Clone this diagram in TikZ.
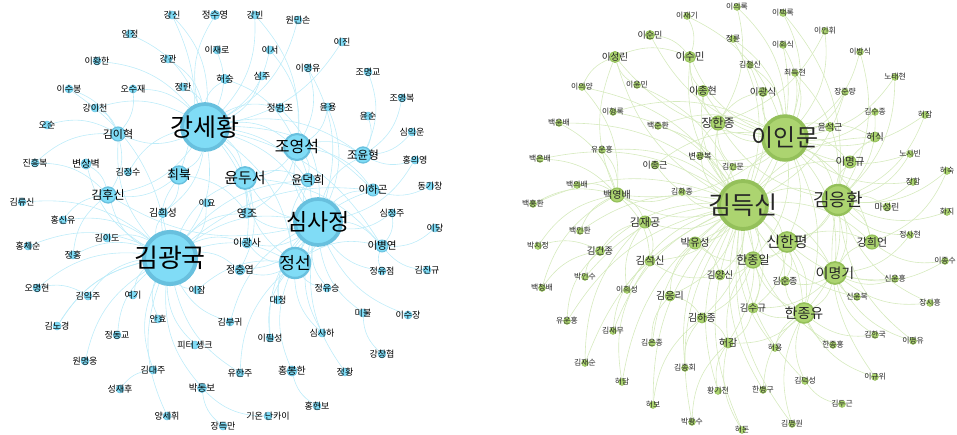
\documentclass[tikz,border=0pt]{standalone}
\usepackage{fontspec}
\newfontfamily\kr{Noto Sans CJK KR}
\usetikzlibrary{backgrounds}
\definecolor{bfill}{RGB}{128,220,246}\definecolor{bring}{RGB}{104,192,222}\definecolor{bedge}{RGB}{190,236,249}
\definecolor{gfill}{RGB}{172,212,112}\definecolor{gring}{RGB}{148,192,90}\definecolor{gedge}{RGB}{214,234,190}
\begin{document}
\begin{tikzpicture}[x=1pt,y=-1pt,bn/.style={circle,fill=bfill,draw=bring,inner sep=0pt},gn/.style={circle,fill=gfill,draw=gring,inner sep=0pt},be/.style={draw=bedge,line width=.6pt},ge/.style={draw=gedge,line width=.6pt},lab/.style={font=\kr\fontsize{#1}{#1}\selectfont,inner sep=0pt}]
\useasboundingbox (0,0) rectangle (957,435);
% left network
\foreach \n/\x/\y/\d/\s/\t in {1/205/127/46/25/강세황,2/170/258/52/26/김광국,3/318/222/46/23/심사정,4/297/147/26/16/조영석,5/295/263/30/17/정선,6/245/178/22/15/윤두서,7/179/175/18/13/최북,8/308/180/13/12/윤덕희,9/118/134/14/11/김이혁,10/108/195/16/12/김후신,11/363/155/16/11.5/조윤형,12/373/190/12/10.5/이하곤,13/382/246/12/10.5/이병연,14/247/213/10/11/영조,15/163/213/9/10/김희성,16/247/243/10/10/이광사,17/240/270/10/10/정충엽,18/86/164/10/10/변상벽,19/202/388/9/9.5/박동보,20/292/371/10/10/홍봉한,21/280/108/9/9.5/정범조,22/225/79/9/9.5/허승,23/215/15/9/9.5/정수영}{\node[bn,minimum size=\d pt,line width={0.08*\d pt}] (l\n) at (\x,\y) {};\node[lab=\s] at (l\n) {\t};}
\foreach \n/\x/\y/\t in {24/130/34/임정,25/97/61/이황한,26/69/89/이수봉,27/133/89/오수재,28/95/108/강이천,29/47/125/오순,30/35/163/진흥복,31/128/172/김정수,32/22/202/김류신,33/63/220/홍신유,34/107/238/김이도,35/28/246/홍체순,36/73/255/정홍,37/37/288/오명현,38/88/296/김익주,39/133/295/여기,40/57/326/김노경,41/117/335/정동교,42/85/361/원명웅,43/153/370/김대주,44/120/389/성재후,45/167/416/양세휘,46/158/319/안효,47/197/290/이잠,48/230/322/김부귀,49/195/345/피터 솅크,50/240/373/유한주,51/223/426/장득만,52/268/416/기온 난카이,53/317/406/홍현보,54/270/338/이필성,55/278/300/대청,56/327/288/정유승,57/322/333/심사하,58/345/372/정황,59/363/313/미불,60/408/315/이수장,61/382/354/강창협,62/382/271/정유점,63/427/270/김진규,64/435/228/이당,65/392/213/심정주,66/430/186/동기창,67/415/160/홍의영,68/412/132/심익운,69/368/116/윤순,70/328/107/윤용,71/402/98/조영복,72/368/72/조명교,73/342/42/이진,74/308/68/이영유,75/298/20/원민손,76/270/50/이서,77/262/76/심주,78/217/50/이재로,79/255/15/강빈,80/172/15/강신,81/168/59/강관,82/183/87/정란,83/207/203/이요}{\node[bn,minimum size=8pt,line width=.5pt] (l\n) at (\x,\y) {};\node[lab=9] at (l\n) {\t};}
\begin{scope}[on background layer]
\foreach \a/\b in {1/2,1/3,1/4,1/6,1/7,2/3,2/5,3/4,3/5,3/6,4/5,4/6,5/6,1/5,2/6,2/7,3/11,3/12,3/13,4/11,6/8,5/13,2/9,2/10,1/9,1/10,3/8,2/14,3/14,1/14,2/16,3/16,2/17,5/17,1/15,2/15,1/11,1/12,1/13,2/12,4/12,5/12,6/13,3/10,1/8,2/8,5/8,4/14,6/14,7/14,7/15,5/16,1/16,6/17,3/17,4/8,7/10,9/10,2/18,18/10,1/21,1/22,1/23,24/1,25/1,26/2,27/1,28/1,29/9,30/10,31/1,32/2,33/2,34/2,35/2,36/2,37/2,38/2,39/2,40/2,41/2,42/2,43/2,44/43,45/2,46/2,47/2,48/2,49/2,50/5,19/2,51/19,52/19,53/20,20/5,54/5,55/5,56/3,57/3,58/3,59/3,60/3,61/59,62/3,63/13,64/13,65/3,66/12,67/3,68/11,69/11,70/4,71/11,72/11,73/1,74/4,75/1,76/1,77/1,78/1,79/1,80/1,81/1,82/1,83/2,27/9,28/9,65/13,74/3,21/3,22/4,26/9,30/9,33/10,36/10,37/38,40/2,47/5,48/3,50/2,54/3,55/3,56/5,57/5,62/13,67/11,70/3,76/4,79/4,80/7}{\draw[be] (l\a) to[bend left=22] (l\b);}
\end{scope}
% right network
\foreach \n/\x/\y/\d/\s/\t in {1/743/205/48/25/김득신,2/785/138/44/24/이인문,3/838/200/30/18/김응환,4/787/242/20/15/신한평,5/835/273/22/14/이명기,6/804/313/20/14/한종유,7/753/260/16/12/한종일,8/872/242/14/11/강희언,9/718/123/14/12/장한종,10/617/195/14/10/백영배,11/645/222/12/11/김재공,12/695/243/12/10.5/박유성,13/650/261/10/10.5/김석신,14/670/296/10/10/김응리,15/702/318/10/10/김하종,16/753/308/10/9.5/김수규,17/720/275/10/9.5/김양신,18/785/281/9/9/김순종,19/728/343/10/10/허감,20/850/162/12/10.5/이명규,21/875/137/10/9.5/허식,22/830/127/9/9/윤석근,23/703/91/11/10/이종현,24/690/57/11/10.5/이수민,25/763/92/9/9.5/이광식,26/615/57/11/9.5/이성린,27/650/35/9/9/이순민,28/887/207/8/9/마성린,29/600/251/9/9.5/김건종,30/655/165/8/9/이종근,31/700/156/7/8.5/변광복}{\node[gn,minimum size=\d pt,line width={0.08*\d pt}] (r\n) at (\x,\y) {};\node[lab=\s,text=black!85] at (r\n) {\t};}
\foreach \n/\x/\y/\t in {32/687/16/이재기,33/737/7/이의록,34/783/13/이택록,35/733/39/정륜,36/783/45/이회식,37/750/65/김철신,38/795/73/최득현,39/637/85/이윤민,40/582/87/이의양,41/613/112/이형록,42/559/123/백윤배,43/602/150/유운홍,44/540/159/백은배,45/577/185/백의배,46/533/204/백홍환,47/658/126/백준환,48/733/167/김인문,49/682/192/김화종,50/825/31/이인휘,51/860/52/이방식,52/895/77/노태현,53/845/92/장준량,54/875/112/김수종,55/925/115/허잠,56/910/154/노시빈,57/947/171/허숙,58/913/182/장함,59/947/212/화지,60/910/235/정사현,61/945/261/이종수,62/895/279/신윤흥,63/857/297/신윤복,64/930/303/장시흥,65/875/335/김한국,66/913/341/이명유,67/833/345/한종홍,68/805/381/김덕성,69/875/377/이규위,70/842/404/김두근,71/792/424/김명원,72/742/430/허돈,73/692/422/박황수,74/653/405/허보,75/763/390/한병구,76/718/391/황기천,77/685/368/김종회,78/775/348/허용,79/652/343/김은종,80/622/382/허담,81/585/363/김재순,82/613/331/김재무,83/567/321/유운홍,84/627/290/이희성,85/542/288/백청배,86/585/277/박인수,87/538/246/박치정,88/580/231/백인환}{\node[gn,minimum size=7pt,line width=.4pt] (r\n) at (\x,\y) {};\node[lab=7.8,text=black!85] at (r\n) {\t};}
\begin{scope}[on background layer]
\foreach \a/\b in {1/2,1/3,1/4,1/5,1/6,1/7,1/9,1/10,1/11,1/12,1/13,1/14,1/15,1/16,1/17,1/19,2/3,2/4,2/5,2/6,2/7,2/9,2/20,2/21,2/22,2/23,2/25,3/4,3/5,3/6,3/8,3/20,3/21,3/28,4/5,4/6,4/7,4/8,5/6,5/8,6/7,6/16,6/18,7/16,7/17,7/12,9/23,9/24,10/11,10/26,11/13,12/17,14/15,15/19,16/19,2/24,2/26,1/23,1/24,1/30,1/31,2/31,1/48,2/48,1/49,2/10,2/12,3/7,3/9,4/18,5/18,6/19,2/27,1/26,9/25,1/20,1/21,1/8,2/8,4/16,5/16,7/15,1/18,32/24,32/2,33/2,34/2,35/1,35/2,36/2,37/2,37/1,38/2,39/1,39/26,40/10,40/1,41/1,42/10,43/10,43/1,44/10,45/10,46/10,47/2,47/1,48/9,49/10,50/2,51/2,52/3,53/2,54/3,55/3,56/3,57/3,58/3,59/3,60/5,61/5,62/5,63/5,63/1,64/5,65/6,66/5,67/6,68/6,69/6,70/68,71/6,72/19,73/19,74/15,75/6,76/19,77/15,78/6,79/14,80/13,81/11,82/1,83/29,84/1,85/29,86/29,87/29,88/1,29/1,29/11,27/24,41/2,52/2,55/2,57/8,61/8,66/3,78/1,77/1,75/1,33/9,34/3,36/1,38/3,40/26,42/1,44/1,46/1,50/9,51/3,53/1,54/2,56/2,58/2,60/3,62/4,64/3,65/5,67/1,68/1,69/3,71/1,72/1,73/1,74/1,76/1,79/1,80/1,81/1,82/13,83/1,84/11,85/10,86/1,87/10,88/10,30/2,31/9,26/24,23/24,10/13,14/12,17/13,19/7}{\draw[ge] (r\a) to[bend left=22] (r\b);}
\end{scope}
\end{tikzpicture}
\end{document}
